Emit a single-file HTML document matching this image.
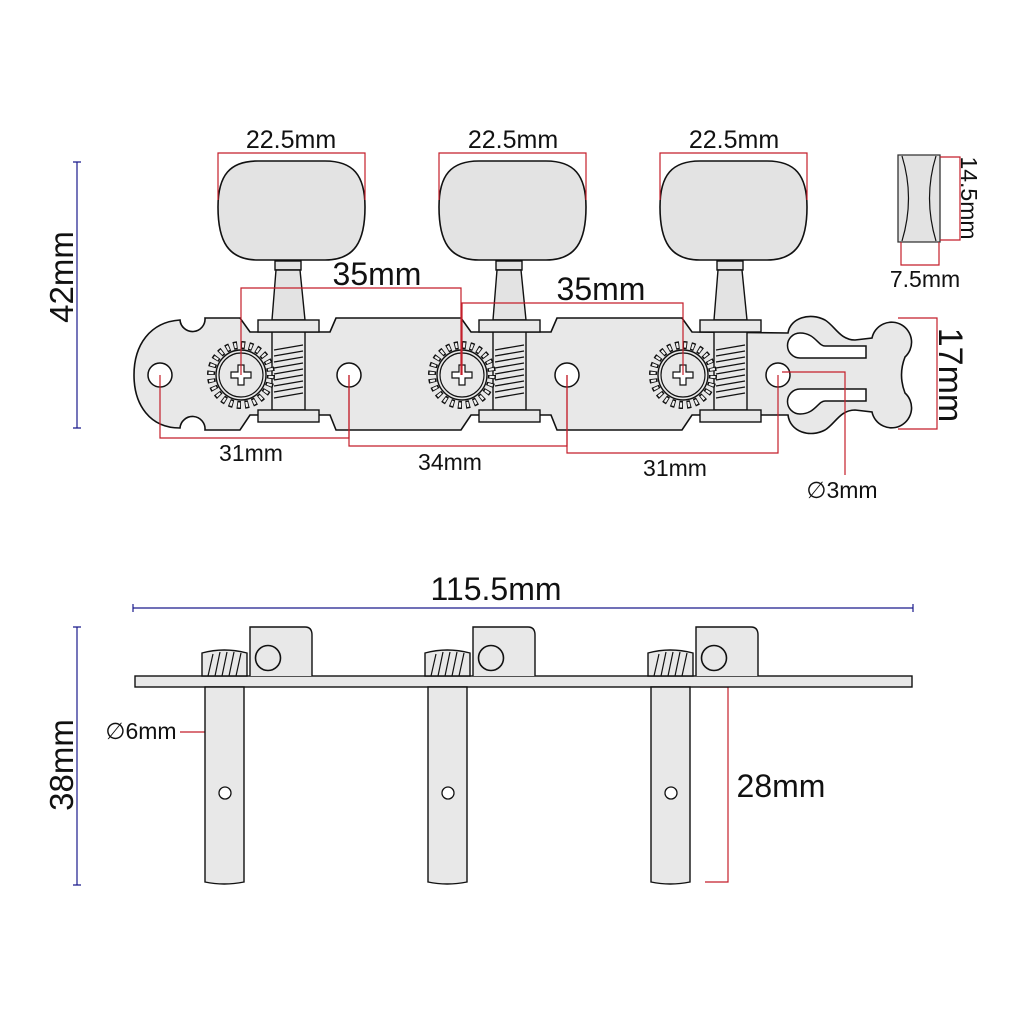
<!DOCTYPE html>
<html><head><meta charset="utf-8"><style>
html,body{margin:0;padding:0;background:#fff}
svg{display:block}
text{font-family:"Liberation Sans",sans-serif;fill:#111}
</style></head><body>
<svg width="1024" height="1024" viewBox="0 0 1024 1024" xmlns="http://www.w3.org/2000/svg">
<defs>
<g id="tun">
  <path d="M17,-214 L84,-214 C112,-214 124,-200 124,-168 C124,-134 114,-115 84,-115 L17,-115 C-13,-115 -23,-134 -23,-168 C-23,-200 -11,-214 17,-214 Z" fill="#e3e3e3" stroke="#111" stroke-width="1.6"/>
  <rect x="34" y="-114" width="26" height="9" fill="#e3e3e3" stroke="#111" stroke-width="1.4"/>
  <path d="M35,-105 L59,-105 L64,-55 L31,-55 Z" fill="#e3e3e3" stroke="#111" stroke-width="1.4"/>
  <rect x="31" y="-43" width="33" height="78" fill="#e8e8e8" stroke="#111" stroke-width="1.4"/>
  <g stroke="#111" stroke-width="1.3" fill="none">
    <path d="M33,-25 L62,-30 M33,-19 L62,-24 M33,-13 L62,-18 M33,-7 L62,-12 M33,-1 L62,-6 M33,5 L62,0 M33,11 L62,6 M33,17 L62,12 M33,23 L62,18"/>
  </g>
  <rect x="17" y="-55" width="61" height="12" fill="#e8e8e8" stroke="#111" stroke-width="1.4"/>
  <rect x="17" y="35" width="61" height="12" fill="#e8e8e8" stroke="#111" stroke-width="1.4"/>
  <circle r="30" fill="#e8e8e8" stroke="#111" stroke-width="8" stroke-dasharray="4 3.85"/>
  <circle r="30" fill="none" stroke="#f0f0f0" stroke-width="5" stroke-dasharray="2.2 5.65" stroke-dashoffset="-0.9"/>
  <circle r="25" fill="#e8e8e8" stroke="#111" stroke-width="1.4"/>
  <circle r="22" fill="none" stroke="#111" stroke-width="1.2"/>
  <path d="M-3,-10 L3,-10 L3,-3 L10,-3 L10,3 L3,3 L3,10 L-3,10 L-3,3 L-10,3 L-10,-3 L-3,-3 Z" fill="#fff" stroke="#111" stroke-width="1.2"/>
</g>
<g id="side">
  <path d="M45,49 L45,0 L100,0 Q107,0 107,8 L107,49" fill="#e8e8e8" stroke="#111" stroke-width="1.4"/>
  <circle cx="63" cy="31" r="12.5" fill="#e8e8e8" stroke="#111" stroke-width="1.6"/>
  <path d="M-3,26 Q19,20 42,26 L42,49 L-3,49 Z" fill="#e8e8e8" stroke="#111" stroke-width="1.4"/>
  <path d="M3,49 L8,27 M10,49 L15,25 M17,49 L22,25 M24,49 L29,25 M31,49 L36,26" stroke="#111" stroke-width="1.2"/>
  <path d="M0,60 L39,60 L39,255 Q19,259 0,255 Z" fill="#e8e8e8" stroke="#111" stroke-width="1.4"/>
  <circle cx="20" cy="166" r="6" fill="#fff" stroke="#111" stroke-width="1.3"/>
</g>
</defs>

<path d="M205,318 L240,318 L250,332 L330,332 L336,318 L461,318 L471,332 L551,332 L557,318 L682,318 L692,332 L788,333
C790,318 810,312 825,320 C835,326 840,340 855,340 L872,338 A20 20 0 1 1 905,357 Q898,375 905,393 A20 20 0 1 1 872,412
L855,410 C840,410 835,424 825,430 C810,438 790,432 788,415 L692,415 L682,430 L557,430 L551,415 L471,415 L461,430 L336,430 L330,415 L250,415 L240,430 L205,430
A12 12 0 0 0 180,428 C150,428 134,405 134,375 C134,345 150,322 180,320 A12 12 0 0 0 205,318 Z" fill="#e8e8e8" stroke="#111" stroke-width="1.6"/>
<path d="M866,346 L825,346 C818,346 815,333 800,333 A12.5 12.5 0 0 0 800,358 L866,358 Z" fill="#fff" stroke="#111" stroke-width="1.5"/>
<path d="M866,389 L800,389 A12.5 12.5 0 0 0 800,414 C815,414 818,401 825,401 L866,401 Z" fill="#fff" stroke="#111" stroke-width="1.5"/>
<circle cx="160" cy="375" r="12" fill="#fff" stroke="#111" stroke-width="1.5"/>
<circle cx="349" cy="375" r="12" fill="#fff" stroke="#111" stroke-width="1.5"/>
<circle cx="567" cy="375" r="12" fill="#fff" stroke="#111" stroke-width="1.5"/>
<circle cx="778" cy="375" r="12" fill="#fff" stroke="#111" stroke-width="1.5"/>

<use href="#tun" x="241" y="375"/>
<use href="#tun" x="462" y="375"/>
<use href="#tun" x="683" y="375"/>

<path d="M898,155 L940,155 L940,242 L898,242 Z" fill="#e3e3e3" stroke="#333" stroke-width="1.3"/>
<path d="M902,156 Q915,198 902,241 M936,156 Q923,198 936,241" fill="none" stroke="#111" stroke-width="1.2"/>

<g stroke="#c41e2a" stroke-width="1.2" fill="none">
  <path d="M218,200 L218,153 L365,153 L365,200"/>
  <path d="M439,200 L439,153 L586,153 L586,200"/>
  <path d="M660,200 L660,153 L807,153 L807,200"/>
  <path d="M241,375 L241,288 L461,288 L461,375"/>
  <path d="M462,375 L462,303 L683,303 L683,375"/>
  <path d="M160,375 L160,438 L349,438 L349,375"/>
  <path d="M349,375 L349,446 L567,446 L567,375"/>
  <path d="M567,375 L567,453 L778,453 L778,375"/>
  <path d="M782,372 L845,372 L845,475"/>
  <path d="M898,318 L937,318 L937,429 L898,429"/>
  <path d="M940,157 L960,157 L960,240 L940,240"/>
  <path d="M901,242 L901,265 L939,265 L939,242"/>
  <path d="M180,732 L244,732"/>
  <path d="M700,687 L728,687 L728,882 L705,882"/>
</g>

<g stroke="#1a1a8c" stroke-width="1.2">
  <path d="M77,162 L77,428 M73,162 L81,162 M73,428 L81,428"/>
  <path d="M77,627 L77,885 M73,627 L81,627 M73,885 L81,885"/>
  <path d="M133,608 L913,608 M133,604 L133,612 M913,604 L913,612"/>
</g>

<rect x="135" y="676" width="777" height="11" fill="#e8e8e8" stroke="#111" stroke-width="1.4"/>
<use href="#side" x="205" y="627"/>
<use href="#side" x="428" y="627"/>
<use href="#side" x="651" y="627"/>

<g font-size="25">
<text x="291" y="148" text-anchor="middle">22.5mm</text>
<text x="513" y="148" text-anchor="middle">22.5mm</text>
<text x="734" y="148" text-anchor="middle">22.5mm</text>
</g>
<g font-size="23">
<text x="251" y="461" text-anchor="middle">31mm</text>
<text x="450" y="470" text-anchor="middle">34mm</text>
<text x="675" y="476" text-anchor="middle">31mm</text>
<text x="842" y="498" text-anchor="middle">∅3mm</text>
<text x="925" y="287" text-anchor="middle">7.5mm</text>
<text x="141" y="739" text-anchor="middle">∅6mm</text>
</g>
<g font-size="32">
<text x="377" y="285" text-anchor="middle">35mm</text>
<text x="601" y="300" text-anchor="middle">35mm</text>
<text x="496" y="600" text-anchor="middle">115.5mm</text>
<text x="781" y="797" text-anchor="middle">28mm</text>
</g>
<text font-size="33" text-anchor="middle" transform="translate(73,277) rotate(-90)">42mm</text>
<text font-size="33" text-anchor="middle" transform="translate(73,765) rotate(-90)">38mm</text>
<text font-size="34" text-anchor="middle" transform="translate(939,375) rotate(90)">17mm</text>
<text font-size="23" text-anchor="middle" transform="translate(961,198) rotate(90)">14.5mm</text>
</svg>
</body></html>
